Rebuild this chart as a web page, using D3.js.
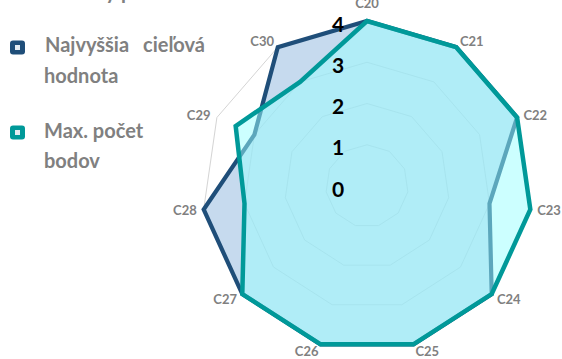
<!DOCTYPE html>
<html>
<head>
<meta charset="utf-8">
<script src="https://cdn.jsdelivr.net/npm/d3@7"></script>
<style>
  html, body { margin: 0; padding: 0; background: #ffffff; }
  svg { display: block; }
  text { font-family: Lato, "Open Sans", sans-serif; font-weight: 700; }
</style>
</head>
<body>
<svg id="chart" width="562" height="359"></svg>
<script>
const categories = ["C20", "C21", "C22", "C23", "C24", "C25", "C26", "C27", "C28", "C29", "C30"];
const seriesNames = ["Najvyššia  cieľová hodnota", "Max. počet bodov"];
const najvyssiaValues = [4, 4, 4, 3, 4, 4, 4, 4, 4, 3, 4];
const maxPocetValues = [4, 4, 4, 4, 4, 4, 4, 4, 3, 3.5, 3];
const tickValues = [0, 1, 2, 3, 4];
const gridLevels = [1, 2, 3, 4];

const svg = d3.select("#chart");
const cx = 367, cy = 186, R = 165;

const r = d3.scaleLinear().domain([0, 4]).range([0, R]);
const angle = d3.scaleLinear().domain([0, categories.length]).range([0, 2 * Math.PI]);

const g = svg.append("g").attr("transform", `translate(${cx},${cy})`);

const radial = d3.lineRadial()
  .angle((d, i) => angle(i))
  .radius(d => r(d))
  .curve(d3.curveLinearClosed);

// grid rings
g.append("g").selectAll("path").data(gridLevels).join("path")
  .attr("d", lv => radial(categories.map(() => lv)))
  .attr("fill", "none")
  .attr("stroke", lv => lv === 4 ? "#d4d4d4" : "#dadada")
  .attr("stroke-width", 1);

// series 1: Najvyššia cieľová hodnota
g.append("path")
  .attr("d", radial(najvyssiaValues))
  .attr("fill", "#8db6de").attr("fill-opacity", 0.5)
  .attr("stroke", "#1f4e79").attr("stroke-width", 4.2)
  .attr("stroke-linejoin", "miter");

// series 2: Max. počet bodov
g.append("path")
  .attr("d", radial(maxPocetValues))
  .attr("fill", "#99ffff").attr("fill-opacity", 0.5)
  .attr("stroke", "none");
g.append("path")
  .attr("d", radial(maxPocetValues))
  .attr("fill", "none")
  .attr("stroke", "#009999").attr("stroke-width", 4.5)
  .attr("stroke-linejoin", "miter");

// category labels (placed outside the outer ring vertex, Excel-like)
const gap = 7;
g.append("g").selectAll("text").data(categories).join("text")
  .attr("text-anchor", "middle")
  .attr("dominant-baseline", "central")
  .attr("font-size", 13)
  .attr("fill", "#808080")
  .text(d => d)
  .each(function (d, i) {
    const a = angle(i);
    const s = Math.sin(a), c = Math.cos(a);
    const halfW = this.getComputedTextLength() / 2;
    let x = r(4) * s, y = -r(4) * c;
    if (Math.abs(s) < 0.1) {
      y += (c > 0 ? -1 : 1) * (gap + 11);
    } else {
      x += Math.sign(s) * halfW + gap * s;
      y += -gap * c;
    }
    d3.select(this).attr("x", x).attr("y", y);
  });

// radial axis tick labels
g.append("g").selectAll("text").data(tickValues).join("text")
  .attr("x", -29)
  .attr("y", d => -r(d) + 2)
  .attr("text-anchor", "middle")
  .attr("dominant-baseline", "central")
  .attr("font-size", 21)
  .attr("fill", "#000000")
  .text(d => d);

// legend
const legend = svg.append("g");
// entry clipped above the visible area (only descenders show)
legend.append("text").attr("x", 116).attr("y", -1).attr("text-anchor", "end")
  .attr("font-size", 20).attr("fill", "#808080").text("Minimálny");
legend.append("text").attr("x", 121).attr("y", -1)
  .attr("font-size", 20).attr("fill", "#808080").text("počet");

const legendItems = [
  { color: "#1f4e79", my: 47.5, lines: [["Najvyššia", "cieľová"], ["hodnota"]], base: [51.7, 83.3] },
  { color: "#009999", my: 132.5, lines: [["Max. počet"], ["bodov"]], base: [138.3, 168.3] }
];
legendItems.forEach(it => {
  legend.append("rect").attr("x", 10).attr("y", it.my - 7).attr("width", 15).attr("height", 14)
    .attr("rx", 3).attr("fill", it.color);
  legend.append("rect").attr("x", 15).attr("y", it.my - 2.5).attr("width", 5).attr("height", 5)
    .attr("fill", "#e4ecf2");
  it.lines.forEach((words, j) => {
    const t = legend.append("text").attr("y", it.base[j]).attr("font-size", 20).attr("fill", "#808080");
    if (words.length === 2) {
      t.append("tspan").attr("x", 45).text(words[0]);
      t.append("tspan").attr("x", 143).text(words[1]);
    } else {
      t.append("tspan").attr("x", 44).text(words[0]);
    }
  });
});
</script>
</body>
</html>
